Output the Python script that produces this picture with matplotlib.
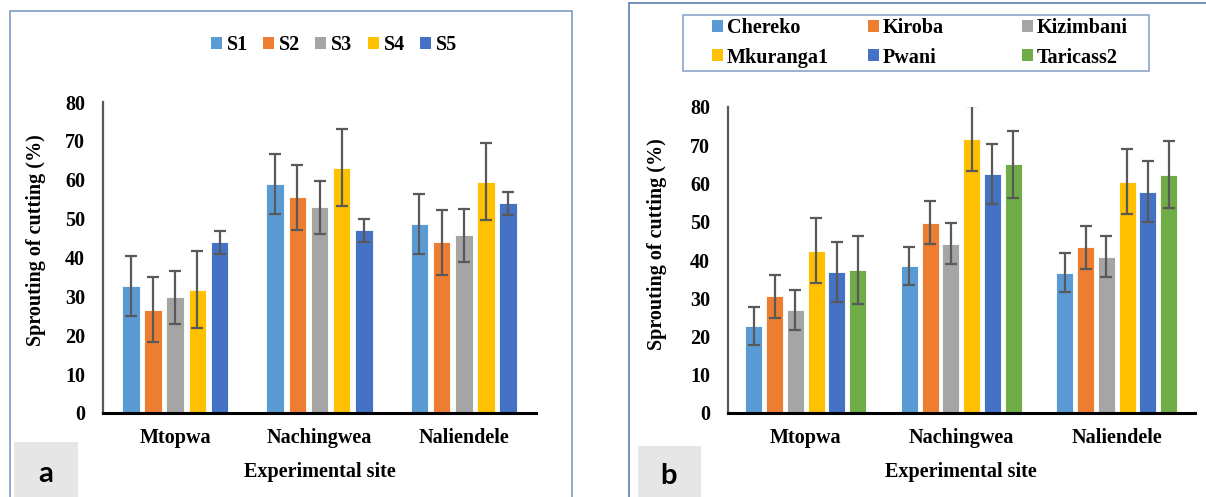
import matplotlib
matplotlib.use('Agg')
import matplotlib.pyplot as plt
from matplotlib.patches import Rectangle, Patch
import numpy as np

# ---------------- data ----------------
sites = ['Mtopwa', 'Nachingwea', 'Naliendele']

a_labels = ['S1', 'S2', 'S3', 'S4', 'S5']
a_s1 = [32.6, 58.9, 48.7]
a_s2 = [26.6, 55.5, 43.9]
a_s3 = [29.8, 52.9, 45.7]
a_s4 = [31.7, 63.1, 59.5]
a_s5 = [43.9, 47.0, 53.9]
a_err = [7.7, 8.4, 6.8, 9.9, 3.0]

b_labels = ['Chereko', 'Kiroba', 'Kizimbani', 'Mkuranga1', 'Pwani', 'Taricass2']
b_chereko = [22.7, 38.4, 36.7]
b_kiroba = [30.5, 49.8, 43.3]
b_kizimbani = [26.9, 44.3, 40.9]
b_mkuranga1 = [42.4, 71.7, 60.5]
b_pwani = [36.8, 62.5, 57.9]
b_taricass2 = [37.4, 65.0, 62.3]
b_err = [5.0, 5.7, 5.3, 8.5, 7.9, 8.8]

yticks = [0, 10, 20, 30, 40, 50, 60, 70, 80]

# ---------------- style ----------------
W, H = 1206, 497
colors = ['#5B9BD5', '#ED7D31', '#A5A5A5', '#FFC000', '#4472C4', '#70AD47']
serif = 'Liberation Serif'
fs = 14.5

fig = plt.figure(figsize=(W / 100, H / 100), dpi=100)
fig.patch.set_facecolor('white')


def fx(px):
    return px / W


def fy(py):
    return 1 - py / H


def make_axes(x0, x1, ytop, ybot):
    return fig.add_axes([fx(x0), fy(ybot), fx(x1) - fx(x0), fy(ytop) - fy(ybot)])


def style_axes(ax):
    ax.set_xlim(-0.5, 2.5)
    ax.set_ylim(0, 80)
    ax.set_yticks(yticks)
    ax.set_yticklabels([str(t) for t in yticks], fontfamily=serif,
                       fontweight='bold', fontsize=fs)
    ax.set_xticks(range(len(sites)))
    ax.set_xticklabels(sites, fontfamily=serif, fontweight='bold', fontsize=fs)
    ax.tick_params(axis='both', length=0)
    ax.tick_params(axis='y', pad=13)
    ax.tick_params(axis='x', pad=11)
    for s in ['top', 'right']:
        ax.spines[s].set_visible(False)
    ax.spines['left'].set_color('#595959')
    ax.spines['left'].set_linewidth(1.6)
    ax.spines['bottom'].set_color('black')
    ax.spines['bottom'].set_linewidth(2.2)
    ax.set_facecolor('none')


def draw_bars(ax, series, errs, pitch, width):
    n = len(series)
    x = np.arange(len(sites))
    for i, (vals, e) in enumerate(zip(series, errs)):
        off = (i - (n - 1) / 2) * pitch
        ax.bar(x + off, vals, width=width, color=colors[i],
               edgecolor='white', linewidth=0.6, zorder=2)
        ax.errorbar(x + off, vals, yerr=e, fmt='none', ecolor='#595959',
                    elinewidth=1.6, capsize=4.2, capthick=1.6, zorder=3)


# ---------------- panel borders ----------------
fig.patches.append(Rectangle((fx(10), fy(520)), fx(572) - fx(10), fy(11) - fy(520),
                             transform=fig.transFigure, fill=False,
                             edgecolor='#7F9CC2', linewidth=1.2, zorder=0))
fig.patches.append(Rectangle((fx(629), fy(520)), fx(1230) - fx(629), fy(3) - fy(520),
                             transform=fig.transFigure, fill=False,
                             edgecolor='#5A7FAE', linewidth=1.2, zorder=0))

# ---------------- panel a ----------------
axa = make_axes(103, 536, 102, 413)
style_axes(axa)
draw_bars(axa, [a_s1, a_s2, a_s3, a_s4, a_s5], a_err, 0.1536, 0.121)
handles_a = [Patch(facecolor=colors[i], edgecolor='none') for i in range(5)]
fig.legend(handles_a, a_labels, loc='center', bbox_to_anchor=(fx(334), fy(45)),
           ncol=5, frameon=False, prop={'family': serif, 'weight': 'bold', 'size': fs},
           handlelength=0.55, handleheight=0.55, handletextpad=0.25,
           columnspacing=0.75, borderpad=0, borderaxespad=0)
fig.text(fx(320), fy(472), 'Experimental site', ha='center', va='center',
         fontfamily=serif, fontweight='bold', fontsize=fs)
fig.text(fx(36), fy(240), 'Sprouting of cutting (%)', ha='center', va='center',
         rotation=90, fontfamily=serif, fontweight='bold', fontsize=fs)
fig.patches.append(Rectangle((fx(14), fy(497)), fx(78) - fx(14), fy(442) - fy(497),
                             transform=fig.transFigure, facecolor='#E6E6E6',
                             edgecolor='none', zorder=1))
fig.text(fx(46), fy(474), 'a', ha='center', va='center', fontfamily='Lato',
         fontweight='bold', fontsize=21, zorder=2)

# ---------------- panel b ----------------
axb = make_axes(728, 1194.5, 107, 413)
style_axes(axb)
draw_bars(axb, [b_chereko, b_kiroba, b_kizimbani, b_mkuranga1, b_pwani, b_taricass2],
          b_err, 0.1338, 0.109)

fig.patches.append(Rectangle((fx(683), fy(71)), fx(1149) - fx(683), fy(15) - fy(71),
                             transform=fig.transFigure, fill=False,
                             edgecolor='#8EA6C8', linewidth=1.2, zorder=1))
col_x = [712, 868, 1022]
for c in range(3):
    idx = [c, c + 3]
    hs = [Patch(facecolor=colors[i], edgecolor='none') for i in idx]
    fig.legend(hs, [b_labels[i] for i in idx], loc='center left',
               bbox_to_anchor=(fx(col_x[c]), fy(43)), ncol=1, frameon=False,
               prop={'family': serif, 'weight': 'bold', 'size': fs},
               handlelength=0.55, handleheight=0.55, handletextpad=0.2,
               labelspacing=0.45, borderpad=0, borderaxespad=0)

fig.text(fx(961), fy(472), 'Experimental site', ha='center', va='center',
         fontfamily=serif, fontweight='bold', fontsize=fs)
fig.text(fx(657), fy(244), 'Sprouting of cutting (%)', ha='center', va='center',
         rotation=90, fontfamily=serif, fontweight='bold', fontsize=fs)
fig.patches.append(Rectangle((fx(638), fy(497)), fx(701) - fx(638), fy(446) - fy(497),
                             transform=fig.transFigure, facecolor='#E6E6E6',
                             edgecolor='none', zorder=1))
fig.text(fx(669), fy(476), 'b', ha='center', va='center', fontfamily='Lato',
         fontweight='bold', fontsize=21, zorder=2)

fig.savefig('out.png', dpi=100, facecolor='white')
